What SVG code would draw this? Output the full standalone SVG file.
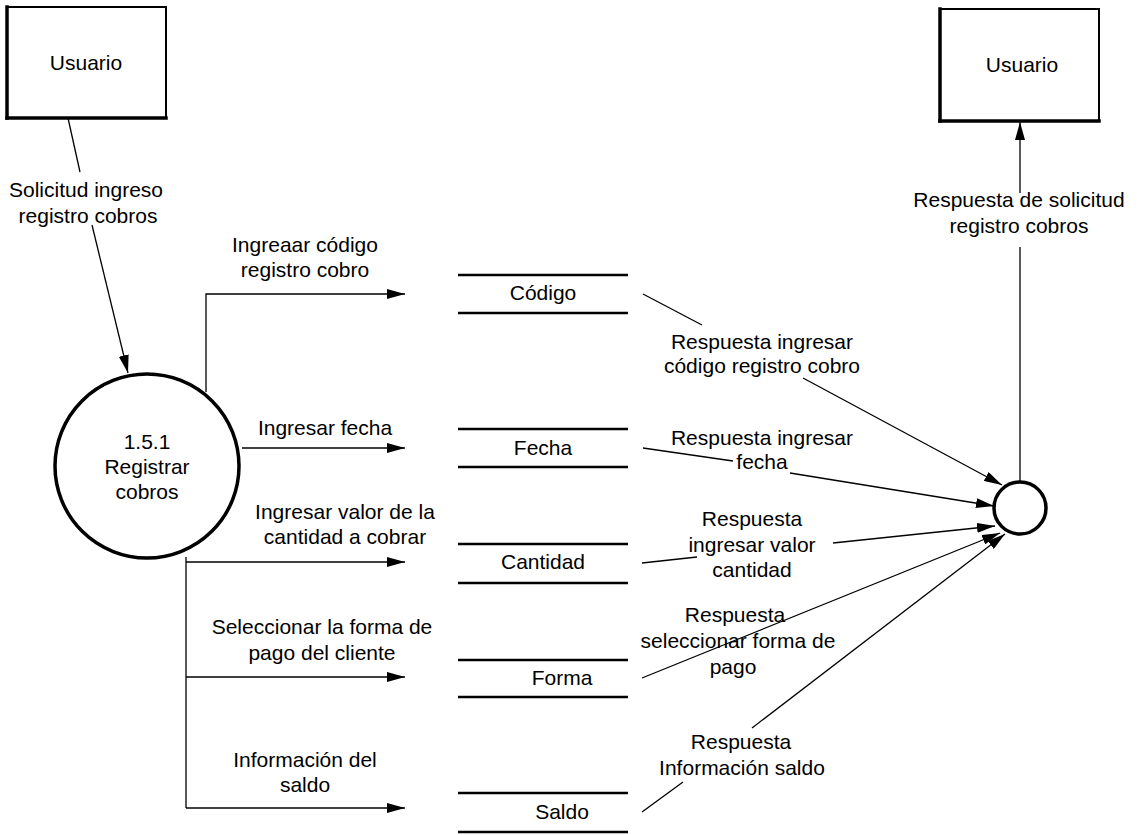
<svg xmlns="http://www.w3.org/2000/svg" width="1137" height="835" viewBox="0 0 1137 835">
  <style>
    text { font-family: "Liberation Sans", Arial, sans-serif; font-size: 21px; fill: #000; text-anchor: middle; }
    .entity { fill: #fff; stroke: #000; stroke-width: 2; }
    .edge { stroke: #000; stroke-width: 3.5; stroke-linecap: square; }
    .process { fill: #fff; stroke: #000; stroke-width: 3.5; }
    .store { stroke: #000; stroke-width: 2.5; }
    .flow { fill: none; stroke: #000; stroke-width: 1.3; }
  </style>
  <defs>
    <marker id="arrow" markerUnits="userSpaceOnUse" viewBox="0 0 18 10" refX="18" refY="5" markerWidth="18" markerHeight="10" orient="auto">
      <path d="M0,0 L18,5 L0,10 z" fill="#000"/>
    </marker>
  </defs>

  <rect width="1137" height="835" fill="#fff"/>

  <!-- external entities -->
  <g id="usuario-origen">
    <rect class="entity" x="7" y="7" width="159" height="111"/>
    <line class="edge" x1="7" y1="7" x2="7" y2="118"/>
    <line class="edge" x1="7" y1="118" x2="166" y2="118"/>
    <text x="86" y="70">Usuario</text>
  </g>
  <g id="usuario-destino">
    <rect class="entity" x="940" y="9" width="159" height="112"/>
    <line class="edge" x1="940" y1="9" x2="940" y2="121"/>
    <line class="edge" x1="940" y1="121" x2="1099" y2="121"/>
    <text x="1022" y="72">Usuario</text>
  </g>

  <!-- processes -->
  <g id="proceso-1-5-1">
    <circle class="process" cx="147" cy="466" r="92"/>
    <text x="147" y="449">1.5.1</text>
    <text x="147" y="474">Registrar</text>
    <text x="147" y="499">cobros</text>
  </g>
  <g id="proceso-respuesta">
    <circle class="process" cx="1020" cy="508" r="26" stroke-width="4"/>
  </g>

  <!-- data stores -->
  <g id="almacen-codigo">
    <line class="store" x1="458" y1="275" x2="628" y2="275"/>
    <line class="store" x1="458" y1="313" x2="628" y2="313"/>
    <text x="543" y="300">Código</text>
  </g>
  <g id="almacen-fecha">
    <line class="store" x1="458" y1="429" x2="628" y2="429"/>
    <line class="store" x1="458" y1="467" x2="628" y2="467"/>
    <text x="543" y="455">Fecha</text>
  </g>
  <g id="almacen-cantidad">
    <line class="store" x1="458" y1="544" x2="628" y2="544"/>
    <line class="store" x1="458" y1="583" x2="628" y2="583"/>
    <text x="543" y="569">Cantidad</text>
  </g>
  <g id="almacen-forma">
    <line class="store" x1="458" y1="660" x2="628" y2="660"/>
    <line class="store" x1="458" y1="697" x2="628" y2="697"/>
    <text x="562" y="685">Forma</text>
  </g>
  <g id="almacen-saldo">
    <line class="store" x1="458" y1="793" x2="628" y2="793"/>
    <line class="store" x1="458" y1="832" x2="628" y2="832"/>
    <text x="562" y="819">Saldo</text>
  </g>

  <!-- data flows -->
  <g id="flujos">
    <!-- Usuario to process -->
    <line class="flow" x1="68" y1="118" x2="80" y2="172"/>
    <line class="flow" x1="92" y1="225" x2="128" y2="373" marker-end="url(#arrow)"/>
    <text x="86" y="197">Solicitud ingreso</text>
    <text x="88" y="223">registro cobros</text>

    <!-- process to stores -->
    <polyline class="flow" points="206,392 206,294 405,294" marker-end="url(#arrow)"/>
    <text x="305" y="252">Ingreaar código</text>
    <text x="305" y="277">registro cobro</text>

    <line class="flow" x1="242" y1="448" x2="405" y2="448" marker-end="url(#arrow)"/>
    <text x="325" y="435">Ingresar fecha</text>

    <line class="flow" x1="186" y1="557" x2="186" y2="808"/>
    <line class="flow" x1="186" y1="562" x2="405" y2="562" marker-end="url(#arrow)"/>
    <text x="345" y="519">Ingresar valor de la</text>
    <text x="345" y="544">cantidad a cobrar</text>

    <line class="flow" x1="186" y1="677" x2="405" y2="677" marker-end="url(#arrow)"/>
    <text x="322" y="634">Seleccionar la forma de</text>
    <text x="322" y="660">pago del cliente</text>

    <line class="flow" x1="186" y1="808" x2="405" y2="808" marker-end="url(#arrow)"/>
    <text x="305" y="767">Información del</text>
    <text x="305" y="792">saldo</text>

    <!-- stores to response process -->
    <line class="flow" x1="643" y1="294" x2="702" y2="325"/>
    <line class="flow" x1="803" y1="378" x2="1002" y2="485" marker-end="url(#arrow)"/>
    <text x="762" y="349">Respuesta ingresar</text>
    <text x="762" y="373">código registro cobro</text>

    <line class="flow" x1="643" y1="448" x2="733" y2="461"/>
    <line class="flow" x1="790" y1="473" x2="994" y2="506" marker-end="url(#arrow)"/>
    <text x="762" y="445">Respuesta ingresar</text>
    <text x="762" y="469">fecha</text>

    <line class="flow" x1="642" y1="563" x2="697" y2="557"/>
    <line class="flow" x1="833" y1="543" x2="995" y2="526" marker-end="url(#arrow)"/>
    <text x="752" y="526">Respuesta</text>
    <text x="752" y="552">ingresar valor</text>
    <text x="752" y="577">cantidad</text>

    <text x="735" y="622">Respuesta</text>
    <text x="738" y="648">seleccionar forma de</text>
    <text x="733" y="674">pago</text>
    <line class="flow" x1="642" y1="678" x2="1000" y2="533" marker-end="url(#arrow)"/>

    <line class="flow" x1="642" y1="812" x2="683" y2="782"/>
    <line class="flow" x1="752" y1="728" x2="1005" y2="534" marker-end="url(#arrow)"/>
    <text x="741" y="749">Respuesta</text>
    <text x="742" y="775">Información saldo</text>

    <!-- response process to Usuario -->
    <line class="flow" x1="1020" y1="482" x2="1020" y2="247"/>
    <line class="flow" x1="1020" y1="193" x2="1020" y2="122" marker-end="url(#arrow)"/>
    <text x="1019" y="207">Respuesta de solicitud</text>
    <text x="1019" y="233">registro cobros</text>
  </g>
</svg>
